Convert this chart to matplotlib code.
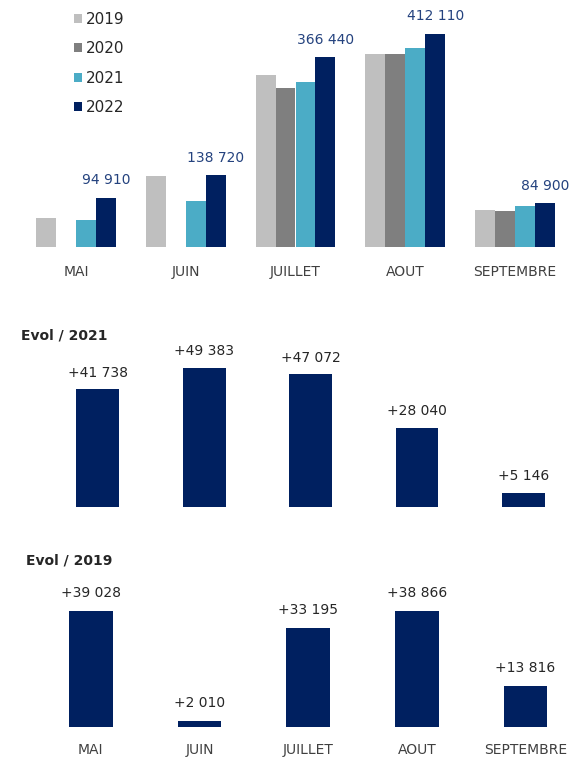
import numpy as np
import matplotlib
matplotlib.use("Agg")
import matplotlib.pyplot as plt
from matplotlib.patches import Patch

# =======================
# Données
# =======================
mois = ["MAI", "JUIN", "JUILLET", "AOUT", "SEPTEMBRE"]
annees = ["2019", "2020", "2021", "2022"]

v2019 = [55882, 136710, 333245, 373244, 71084]
v2020 = [0, 0, 307000, 373000, 71000]
v2021 = [53172, 89337, 319368, 384070, 79754]
v2022 = [94910, 138720, 366440, 412110, 84900]

evol_2021 = [41738, 49383, 47072, 28040, 5146]
evol_2019 = [39028, 2010, 33195, 38866, 13816]

couleurs = ["#BFBFBF", "#7F7F7F", "#4BACC6", "#002060"]
bleu_fonce = "#002060"
bleu_label = "#24427E"
gris_texte = "#404040"


def fmt(v, signe=False):
    s = f"{v:,}".replace(",", " ")
    return "+" + s if signe else s


plt.rcParams["font.family"] = "DejaVu Sans"

W, H = 574, 757
fig = plt.figure(figsize=(W / 100, H / 100), dpi=100)


def axes_px(bas, haut):
    # axes sur toute la largeur, positions verticales en pixels depuis le haut
    return fig.add_axes([0, (H - bas) / H, 1, (bas - haut) / H])


def nettoyer(ax, pad):
    for s in ax.spines.values():
        s.set_visible(False)
    ax.set_yticks([])
    ax.tick_params(axis="x", length=0, pad=pad, labelsize=10, labelcolor=gris_texte)


x = np.arange(len(mois))

# =======================
# 1) Graphique principal (4 années)
# =======================
ax1 = axes_px(247.3, 247.3 - 450000 / 1930)
w = 0.182
series = [v2019, v2020, v2021, v2022]
for i, (vals, c) in enumerate(zip(series, couleurs)):
    ax1.bar(x + (i - 1.5) * w, vals, width=w, color=c, linewidth=0)

for xi, v in zip(x, v2022):
    ax1.annotate(fmt(v), (xi + 1.5 * w, v), xytext=(0, 12.7), textcoords="offset points",
                 ha="center", va="center", fontsize=10, color=bleu_label)

ax1.set_ylim(0, 450000)
ax1.set_xlim(-76 / 109.75, (W - 76) / 109.75)
ax1.set_xticks(x, mois)
nettoyer(ax1, 12.5)

handles = [Patch(facecolor=c, edgecolor="none") for c in couleurs]
fig.legend(handles, annees, loc="upper left", bbox_to_anchor=(66 / W, 1 - 4 / H),
           frameon=False, fontsize=11, handlelength=0.55, handleheight=0.55,
           handletextpad=0.25, labelspacing=0.95, borderpad=0, labelcolor="#262626")

# =======================
# 2) Evol / 2021
# =======================
ax2 = axes_px(507, 507 - 60000 / 355)
ax2.bar(x, evol_2021, width=0.4, color=bleu_fonce, linewidth=0)
for xi, v in zip(x, evol_2021):
    ax2.annotate(fmt(v, True), (xi, v), xytext=(0, 12), textcoords="offset points",
                 ha="center", va="center", fontsize=10, color="#262626")
ax2.set_ylim(0, 60000)
ax2.set_xlim(-97.7 / 106.5, (W - 97.7) / 106.5)
ax2.set_xticks([])
nettoyer(ax2, 0)
fig.text(21 / W, 1 - 335 / H, "Evol / 2021", fontsize=10, fontweight="bold",
         color="#262626", ha="left", va="center")

# =======================
# 3) Evol / 2019
# =======================
ax3 = axes_px(727, 727 - 50000 / 336)
ax3.bar(x, evol_2019, width=0.4, color=bleu_fonce, linewidth=0)
for xi, v in zip(x, evol_2019):
    ax3.annotate(fmt(v, True), (xi, v), xytext=(0, 13), textcoords="offset points",
                 ha="center", va="center", fontsize=10, color="#262626")
ax3.set_ylim(0, 50000)
ax3.set_xlim(-90.8 / 108.7, (W - 90.8) / 108.7)
ax3.set_xticks(x, mois)
nettoyer(ax3, 11.5)
fig.text(26 / W, 1 - 560.7 / H, "Evol / 2019", fontsize=10, fontweight="bold",
         color="#262626", ha="left", va="center")

fig.savefig("out.png", dpi=100)
